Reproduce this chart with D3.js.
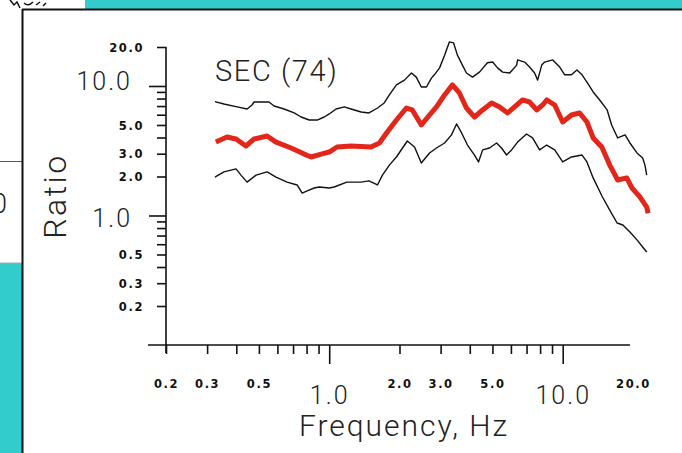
<!DOCTYPE html>
<html>
<head>
<meta charset="utf-8">
<script src="https://cdn.jsdelivr.net/npm/d3@7"></script>
<style>
  html, body { margin: 0; padding: 0; background: #33cccc; }
  svg { display: block; }
</style>
</head>
<body>
<svg id="chart" width="682" height="453"></svg>
<script>
// Spectral ratio for station SEC (74 records): upper bound, mean, lower bound
const upperFreq  = [0.324,0.354,0.403,0.445,0.467,0.477,0.552,0.581,0.641,0.708,0.758,0.821,0.888,0.952,1.0,1.07,1.16,1.24,1.37,1.48,1.61,1.72,1.81,1.94,2.10,2.25,2.36,2.48,2.61,2.74,2.82,2.97,3.12,3.27,3.41,3.54,3.72,3.87,4.11,4.40,4.76,5.01,5.26,5.53,5.93,6.35,6.41,6.87,7.21,7.58,7.81,8.13,8.37,9.06,9.71,10.2,10.9,11.5,12.1,12.7,13.5,14.4,15.5,16.2,17.2,18.5,19.4,20.8,22.0,22.5,22.9];
const upperRatio = [7.57,7.26,6.89,6.64,7.13,7.52,7.52,7.01,6.64,6.19,5.76,5.46,5.46,5.76,6.08,6.64,6.89,6.64,6.30,6.19,6.76,7.39,8.53,10.2,11.1,12.6,11.7,9.82,9.82,11.5,12.2,13.8,17.3,21.9,21.5,17.3,14.5,12.6,11.7,12.8,15.1,15.3,13.8,12.8,12.6,14.5,15.9,15.3,14.0,12.6,11.1,14.5,15.3,15.9,14.0,12.2,12.2,13.3,12.2,10.7,8.99,7.80,6.53,5.00,3.97,4.19,3.63,3.04,2.78,2.45,2.05];

const meanFreq  = [0.327,0.365,0.399,0.440,0.477,0.542,0.592,0.687,0.781,0.837,0.924,1.0,1.08,1.24,1.51,1.64,1.76,1.94,2.14,2.27,2.48,2.69,2.88,3.12,3.37,3.61,3.87,4.19,4.54,4.96,5.37,5.81,6.22,6.73,7.21,7.73,8.20,8.54,9.24,10.0,10.9,11.8,12.7,13.5,14.7,15.9,17.2,18.8,19.8,21.4,22.9,23.2];
const meanRatio = [3.69,4.04,3.90,3.44,3.90,4.11,3.69,3.32,2.98,2.83,2.98,3.09,3.38,3.44,3.38,3.63,4.34,5.46,6.76,6.53,5.00,5.97,6.89,8.53,10.2,8.83,6.76,5.76,6.53,7.39,6.89,6.19,6.89,7.80,7.52,6.53,7.13,7.80,7.13,5.27,5.97,6.19,5.27,3.97,3.38,2.45,1.88,1.95,1.63,1.39,1.16,1.04];

const lowerFreq  = [0.324,0.354,0.399,0.419,0.445,0.486,0.542,0.592,0.660,0.729,0.766,0.805,0.862,0.906,1.0,1.05,1.19,1.37,1.48,1.61,1.69,1.81,1.94,2.16,2.32,2.48,2.69,2.88,3.12,3.34,3.51,3.69,3.91,4.19,4.36,4.54,4.86,5.21,5.47,5.75,6.04,6.41,7.00,7.43,7.96,8.54,9.24,10.0,10.9,12.1,12.7,13.5,14.8,15.9,17.1,18.1,19.4,20.8,22.0,22.9];
const lowerRatio = [1.98,2.17,2.29,2.05,1.81,2.05,2.17,1.98,1.81,1.72,1.49,1.55,1.63,1.66,1.63,1.66,1.81,1.81,1.85,1.72,2.05,2.45,2.83,3.76,3.38,2.54,3.04,3.32,3.63,4.19,5.09,4.34,3.50,2.93,2.59,3.21,3.32,3.63,3.32,2.93,3.21,3.69,4.26,3.97,3.21,3.50,3.21,2.59,2.83,2.93,2.59,1.95,1.39,1.10,0.875,0.845,0.746,0.648,0.571,0.523];

// Axis ticks and labels
const xTicks      = [0.2,0.3,0.4,0.5,0.6,0.7,0.8,0.9,1,2,3,4,5,6,7,8,9,10,20];
const xMajor      = [1,10];
const xLabelVals  = [0.2,0.3,0.5,1,2,3,5,10,20];
const xLabelText  = ["0.2","0.3","0.5","1.0","2.0","3.0","5.0","10.0","20.0"];
const yTicks      = [0.2,0.3,0.4,0.5,0.6,0.7,0.8,0.9,1,2,3,4,5,6,7,8,9,10,20];
const yMajor      = [1,10];
const yLabelVals  = [0.2,0.3,0.5,1,2,3,5,10,20];
const yLabelText  = ["0.2","0.3","0.5","1.0","2.0","3.0","5.0","10.0","20.0"];

const svg = d3.select("#chart");
const W = 682, H = 453;

const SMALL_FONT = "'DejaVu Sans', sans-serif";
const BIG_FONT = "Roboto, 'Liberation Sans', sans-serif";

// ---- window frame ----
svg.append("rect").attr("width", W).attr("height", H).attr("fill", "#33cccc");
svg.append("rect").attr("x", 0).attr("y", 0).attr("width", 85).attr("height", 10).attr("fill", "#fff");
svg.append("rect").attr("x", 0).attr("y", 0).attr("width", 23).attr("height", 263).attr("fill", "#fff");
svg.append("line").attr("x1", 0).attr("x2", 23).attr("y1", 161.5).attr("y2", 161.5).attr("stroke", "#555").attr("stroke-width", 1);
svg.append("line").attr("x1", 0).attr("x2", 23).attr("y1", 263).attr("y2", 263).attr("stroke", "#aaa").attr("stroke-width", 1);
svg.append("text").attr("x", 7).attr("y", 213).attr("text-anchor", "end")
  .attr("font-family", BIG_FONT).attr("font-weight", 300).attr("font-size", 27).attr("fill", "#222").text("1.0");
svg.append("path").attr("d", "M10,0 L14,5 L17,2 L20,8 M24,3 C27,6 30,5 33,2 M36,5 L40,2 M43,6 L46,3")
  .attr("fill", "none").attr("stroke", "#111").attr("stroke-width", 1.5);

svg.append("rect").attr("x", 22).attr("y", 9).attr("width", W - 22).attr("height", H - 9).attr("fill", "#fff");
svg.append("line").attr("x1", 22).attr("x2", W).attr("y1", 9.5).attr("y2", 9.5).attr("stroke", "#111").attr("stroke-width", 2);
svg.append("line").attr("x1", 22.5).attr("x2", 22.5).attr("y1", 9).attr("y2", H).attr("stroke", "#111").attr("stroke-width", 2);

// ---- scales ----
const x = d3.scaleLog().domain([0.2, 20]).range([166, 633]);
const y = d3.scaleLog().domain([0.1, 20]).range([345, 47]);

// ---- axes ----
const axisColor = "#111";

const yAxis = d3.axisLeft(y).tickValues(yTicks).tickSize(9).tickPadding(0)
  .tickFormat(d => { const i = yLabelVals.indexOf(d); return i < 0 ? "" : yLabelText[i]; });
const gy = svg.append("g").attr("transform", "translate(166,0)").call(yAxis);
gy.select(".domain").remove();
gy.selectAll(".tick line").attr("stroke", axisColor).attr("stroke-width", 1.6)
  .attr("x2", d => yMajor.includes(d) ? -17 : -9);
gy.selectAll(".tick text").each(function(d) {
  const t = d3.select(this);
  if (yMajor.includes(d)) {
    t.attr("x", -34).attr("dy", null).attr("y", d === 10 ? 4 : 11)
     .attr("font-family", BIG_FONT).attr("font-weight", 300).attr("font-size", 25)
     .attr("letter-spacing", 2).attr("fill", "#222");
  } else {
    t.attr("x", -22).attr("dy", "0.36em")
     .attr("font-family", SMALL_FONT).attr("font-weight", "bold").attr("font-size", 11.5)
     .attr("letter-spacing", 1.6).attr("fill", "#111");
  }
});
svg.append("line").attr("x1", 166).attr("x2", 166).attr("y1", y(20)).attr("y2", 353)
  .attr("stroke", axisColor).attr("stroke-width", 1.6);

const xAxis = d3.axisBottom(x).tickValues(xTicks).tickSize(9).tickPadding(0)
  .tickFormat(d => { const i = xLabelVals.indexOf(d); return i < 0 ? "" : xLabelText[i]; });
const gx = svg.append("g").attr("transform", "translate(0,345)").call(xAxis);
gx.select(".domain").remove();
gx.selectAll(".tick line").attr("stroke", axisColor).attr("stroke-width", 1.6)
  .attr("y2", d => d === 20 ? 0 : (xMajor.includes(d) ? 19 : 9));
gx.selectAll(".tick text").each(function(d) {
  const t = d3.select(this);
  if (xMajor.includes(d)) {
    t.attr("y", 59).attr("dy", null)
     .attr("font-family", BIG_FONT).attr("font-weight", 300).attr("font-size", 25)
     .attr("letter-spacing", 2).attr("fill", "#222");
  } else {
    t.attr("y", 43).attr("dy", null)
     .attr("font-family", SMALL_FONT).attr("font-weight", "bold").attr("font-size", 11.5)
     .attr("letter-spacing", 1.6).attr("fill", "#111");
  }
});
svg.append("line").attr("x1", 148).attr("x2", x(20) - 3).attr("y1", 345).attr("y2", 345)
  .attr("stroke", axisColor).attr("stroke-width", 1.6);

// ---- axis titles ----
svg.append("text").attr("x", 404).attr("y", 436).attr("text-anchor", "middle")
  .attr("font-family", BIG_FONT).attr("font-weight", 300).attr("font-size", 30)
  .attr("letter-spacing", 2).attr("fill", "#222").text("Frequency, Hz");
svg.append("text").attr("transform", "translate(66,196) rotate(-90)").attr("text-anchor", "middle")
  .attr("font-family", BIG_FONT).attr("font-weight", 300).attr("font-size", 32)
  .attr("letter-spacing", 2.5).attr("fill", "#222").text("Ratio");
svg.append("text").attr("x", 215).attr("y", 81)
  .attr("font-family", BIG_FONT).attr("font-weight", 300).attr("font-size", 29)
  .attr("letter-spacing", 1.6).attr("fill", "#222").text("SEC (74)");

// ---- curves ----
const line = d3.line().x(d => x(d[0])).y(d => y(d[1]));

svg.append("path").datum(d3.zip(upperFreq, upperRatio)).attr("d", line)
  .attr("fill", "none").attr("stroke", "#111").attr("stroke-width", 1.4).attr("stroke-linejoin", "round");
svg.append("path").datum(d3.zip(lowerFreq, lowerRatio)).attr("d", line)
  .attr("fill", "none").attr("stroke", "#111").attr("stroke-width", 1.4).attr("stroke-linejoin", "round");
svg.append("path").datum(d3.zip(meanFreq, meanRatio)).attr("d", line)
  .attr("fill", "none").attr("stroke", "#e2261a").attr("stroke-width", 5).attr("stroke-linejoin", "round");
</script>
</body>
</html>
